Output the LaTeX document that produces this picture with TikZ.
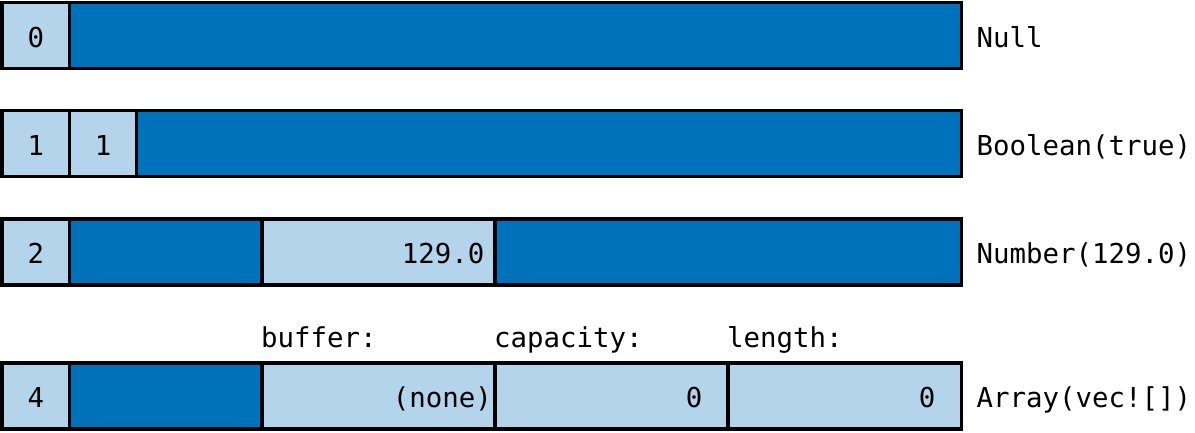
\documentclass[tikz,border=0pt]{standalone}
\usepackage{fontspec}
\setmonofont{DejaVu Sans Mono}
\definecolor{darkcell}{RGB}{0,114,188}
\definecolor{lightcell}{RGB}{179,212,234}
\tikzset{
  cell/.style={draw=black, line width=3.3pt, inner sep=0pt, outer sep=0pt, anchor=north west, minimum height=66pt},
  lt/.style={cell, fill=lightcell},
  dk/.style={cell, fill=darkcell},
  txt/.style={font=\ttfamily\fontsize{27.4}{30}\selectfont, inner sep=0pt, text height=23pt, text depth=0pt, text=black},
}
\begin{document}
\begin{tikzpicture}[x=1pt,y=-1pt]
\useasboundingbox (0,0) rectangle (1195,432);
% Row 1
\node[lt, minimum width=67.5pt] (a1) at (2,2.5) {};
\node[dk, minimum width=892pt] (a2) at (69.5,2.5) {};
% Row 2
\node[lt, minimum width=67.5pt] (b1) at (2,110.5) {};
\node[lt, minimum width=67pt] (b2) at (69.5,110.5) {};
\node[dk, minimum width=825pt] (b3) at (136.5,110.5) {};
% Row 3
\node[lt, minimum width=67.5pt] (c1) at (2,219) {};
\node[dk, minimum width=192.5pt] (c2) at (69.5,219) {};
\node[lt, minimum width=233pt] (c3) at (262,219) {};
\node[dk, minimum width=466.5pt] (c4) at (495,219) {};
% Row 4
\node[lt, minimum width=67.5pt] (d1) at (2,363) {};
\node[dk, minimum width=192.5pt] (d2) at (69.5,363) {};
\node[lt, minimum width=233pt] (d3) at (262,363) {};
\node[lt, minimum width=233pt] (d4) at (495,363) {};
\node[lt, minimum width=233.5pt] (d5) at (728,363) {};
% cell texts
\node[txt] (ta1) at (a1.center) {0};
\node[txt] (tb1) at (b1.center) {1};
\node[txt] (tb2) at (b2.center) {1};
\node[txt] (tc1) at (c1.center) {2};
\node[txt, anchor=east, xshift=-10.5pt] (tc3) at (c3.east) {129.0};
\node[txt] (td1) at (d1.center) {4};
\node[txt, anchor=east, xshift=-3pt] (td3) at (d3.east) {(none)};
\node[txt, anchor=east, xshift=-25.5pt] (td4) at (d4.east) {0};
\node[txt, anchor=east, xshift=-26pt] (td5) at (d5.east) {0};
% field labels
\node[txt, anchor=base west, xshift=-1pt, yshift=16pt] (fb) at (d3.north west) {buffer:};
\node[txt, anchor=base west, xshift=-1pt, yshift=16pt] (fc) at (d4.north west) {capacity:};
\node[txt, anchor=base west, xshift=-1pt, yshift=16pt] (fl) at (d5.north west) {length:};
% row labels
\node[txt, anchor=west, xshift=15pt] (la) at (a2.east) {Null};
\node[txt, anchor=west, xshift=15pt] (lb) at (b3.east) {Boolean(true)};
\node[txt, anchor=west, xshift=15pt] (lc) at (c4.east) {Number(129.0)};
\node[txt, anchor=west, xshift=15pt] (ld) at (d5.east) {Array(vec![])};
\end{tikzpicture}
\end{document}
